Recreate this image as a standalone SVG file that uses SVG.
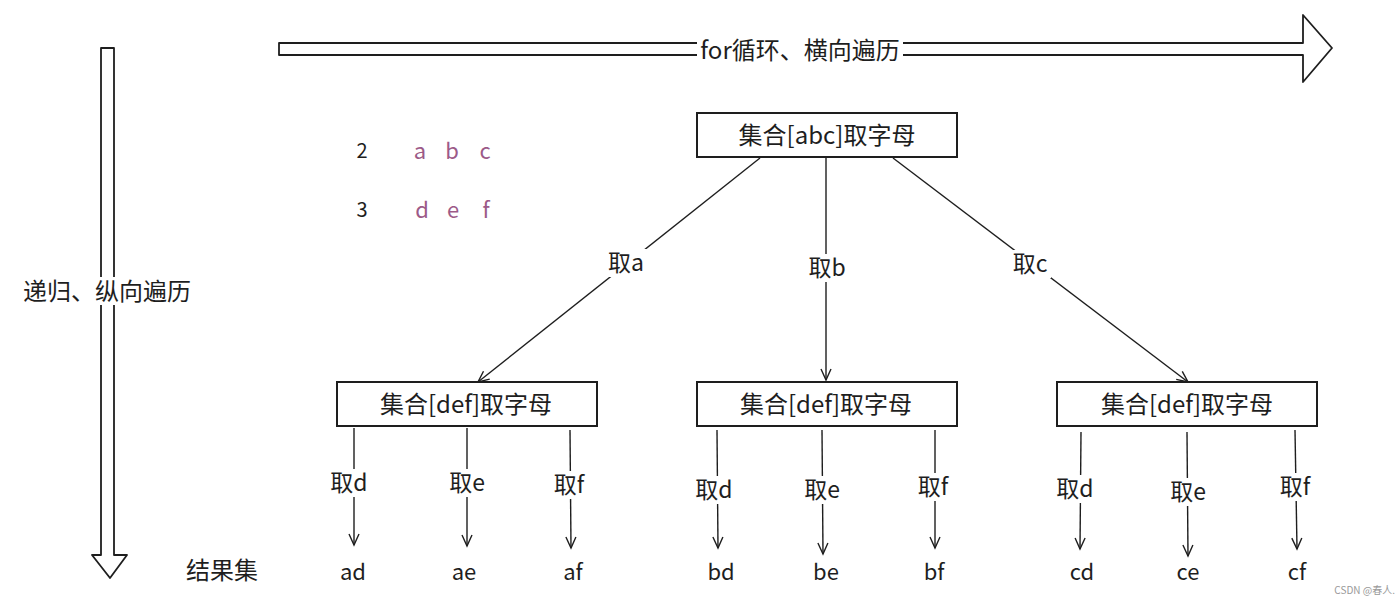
<svg xmlns="http://www.w3.org/2000/svg" width="1400" height="606" viewBox="0 0 1400 606">
<style>
text{font-family:"Noto Sans CJK SC","Liberation Sans",sans-serif;fill:#1e1e1e;}
.t{font-size:24px;text-anchor:middle;dominant-baseline:central;}
.lbl{font-size:23px;text-anchor:middle;dominant-baseline:central;}
.res{font-size:22px;text-anchor:middle;dominant-baseline:central;}
.big-lbl{font-size:24px;text-anchor:middle;dominant-baseline:central;}
.box{fill:#fff;stroke:#1e1e1e;stroke-width:2;}
.edge{fill:none;stroke:#1e1e1e;stroke-width:1.4;}
.big{fill:#fff;stroke:#1e1e1e;stroke-width:1.8;stroke-linejoin:round;}
.pk{fill:#9c5a88;font-size:22px;text-anchor:middle;dominant-baseline:central;}
.num{font-size:20px;text-anchor:middle;dominant-baseline:central;}
</style>
<defs>
<marker id="ah" viewBox="0 0 14 14" refX="12" refY="7" markerWidth="14" markerHeight="14" markerUnits="userSpaceOnUse" orient="auto">
<polyline points="1,2 12,7 1,12" fill="none" stroke="#1e1e1e" stroke-width="1.4"/>
</marker>
</defs>
<g id="hArrow">
<path class="big" d="M279,43 L1303,43 L1303,15 L1332,48 L1303,82 L1303,55 L279,55 Z"/>
<rect x="697" y="36" width="206" height="28" fill="#fff"/>
<text class="big-lbl" x="800" y="48">for循环、横向遍历</text>
</g>
<g id="vArrow">
<path class="big" d="M101,48 L114,48 L114,555 L127,555 L110,578 L92,555 L101,555 Z"/>
<rect x="24" y="277" width="168" height="28" fill="#fff"/>
<text class="big-lbl" x="107" y="289">递归、纵向遍历</text>
</g>
<g id="legend">
<text class="num" x="362" y="149">2</text>
<text class="pk" x="420" y="149">a</text>
<text class="pk" x="452" y="149">b</text>
<text class="pk" x="485" y="149">c</text>
<text class="num" x="362" y="208">3</text>
<text class="pk" x="422" y="208">d</text>
<text class="pk" x="453" y="208">e</text>
<text class="pk" x="486" y="208">f</text>
</g>
<g id="connectors">
<path class="edge" d="M760,158 L478,382" marker-end="url(#ah)"/>
<path class="edge" d="M826,158 L826,380" marker-end="url(#ah)"/>
<path class="edge" d="M893,158 L1188,382" marker-end="url(#ah)"/>
<path class="edge" d="M354,428 L354,545" marker-end="url(#ah)"/>
<path class="edge" d="M467,428 L467,546" marker-end="url(#ah)"/>
<path class="edge" d="M570,430 L571,548" marker-end="url(#ah)"/>
<path class="edge" d="M717,430 L718,548" marker-end="url(#ah)"/>
<path class="edge" d="M822,430 L823,554" marker-end="url(#ah)"/>
<path class="edge" d="M935,430 L935,548" marker-end="url(#ah)"/>
<path class="edge" d="M1081,432 L1080,549" marker-end="url(#ah)"/>
<path class="edge" d="M1187,432 L1188,556" marker-end="url(#ah)"/>
<path class="edge" d="M1295,430 L1297,549" marker-end="url(#ah)"/>
</g>
<g id="edgeLabels">
<rect x="605" y="249" width="42" height="28" fill="#fff"/>
<text class="lbl" x="626" y="261">取a</text>
<rect x="806" y="254" width="42" height="28" fill="#fff"/>
<text class="lbl" x="827" y="266">取b</text>
<rect x="1009" y="250" width="42" height="28" fill="#fff"/>
<text class="lbl" x="1030" y="262">取c</text>
<rect x="328" y="469" width="42" height="28" fill="#fff"/>
<text class="lbl" x="349" y="481">取d</text>
<rect x="446" y="469" width="42" height="28" fill="#fff"/>
<text class="lbl" x="467" y="481">取e</text>
<rect x="548" y="471" width="42" height="28" fill="#fff"/>
<text class="lbl" x="569" y="483">取f</text>
<rect x="693" y="476" width="42" height="28" fill="#fff"/>
<text class="lbl" x="714" y="488">取d</text>
<rect x="801" y="476" width="42" height="28" fill="#fff"/>
<text class="lbl" x="822" y="488">取e</text>
<rect x="912" y="473" width="42" height="28" fill="#fff"/>
<text class="lbl" x="933" y="485">取f</text>
<rect x="1054" y="475" width="42" height="28" fill="#fff"/>
<text class="lbl" x="1075" y="487">取d</text>
<rect x="1167" y="478" width="42" height="28" fill="#fff"/>
<text class="lbl" x="1188" y="490">取e</text>
<rect x="1274" y="473" width="42" height="28" fill="#fff"/>
<text class="lbl" x="1295" y="485">取f</text>
</g>
<g id="nodeRoot">
<rect class="box" x="697" y="113" width="260" height="44"/>
<text class="t" x="827" y="133">集合[abc]取字母</text>
</g>
<g id="nodeA">
<rect class="box" x="337" y="382" width="260" height="44"/>
<text class="t" x="466" y="402">集合[def]取字母</text>
</g>
<g id="nodeB">
<rect class="box" x="697" y="382" width="260" height="44"/>
<text class="t" x="826" y="402">集合[def]取字母</text>
</g>
<g id="nodeC">
<rect class="box" x="1057" y="382" width="260" height="44"/>
<text class="t" x="1187" y="402">集合[def]取字母</text>
</g>
<g id="results">
<text class="big-lbl" x="222" y="568">结果集</text>
<text class="res" x="353" y="570">ad</text>
<text class="res" x="464" y="570">ae</text>
<text class="res" x="573" y="570">af</text>
<text class="res" x="721" y="570">bd</text>
<text class="res" x="826" y="570">be</text>
<text class="res" x="934" y="570">bf</text>
<text class="res" x="1082" y="570">cd</text>
<text class="res" x="1188" y="570">ce</text>
<text class="res" x="1297" y="570">cf</text>
</g>
<text x="1395" y="594" font-size="10" text-anchor="end" style="fill:#999">CSDN @春人.</text>
</svg>
